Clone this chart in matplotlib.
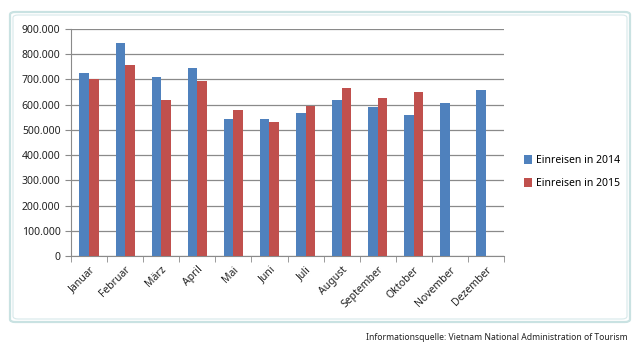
import matplotlib
matplotlib.use('Agg')
import numpy as np
import matplotlib.pyplot as plt
from matplotlib.patches import FancyBboxPatch
from matplotlib.ticker import FuncFormatter

monate = ['Januar', 'Februar', 'März', 'April', 'Mai', 'Juni', 'Juli',
          'August', 'September', 'Oktober', 'November', 'Dezember']
einreisen_2014 = [724000, 843000, 710000, 745000, 542000, 542000, 566000,
                  620000, 591000, 559000, 608000, 658000]
einreisen_2015 = [700000, 756000, 620000, 692000, 578000, 531000, 595000,
                  665000, 626000, 650000]

blau = '#4F81BD'
rot = '#C0504D'
plt.rcParams['font.family'] = ['Noto Sans', 'DejaVu Sans']

W, H = 640, 350
fig = plt.figure(figsize=(6.4, 3.5), dpi=100)

# frame around chart
for inset, lw, col in [(0, 1.6, '#c9e2e2'), (3, 0.8, '#d7e9ea')]:
    fig.patches.append(FancyBboxPatch(((10 + inset) / W, 1 - (322 - inset) / H),
                                      (620 - 2 * inset) / W, (310 - 2 * inset) / H,
                                      boxstyle='round,pad=0,rounding_size=0.008',
                                      transform=fig.transFigure, fill=False,
                                      edgecolor=col, lw=lw))

ax = fig.add_axes([71 / W, 1 - 256 / H, (504 - 71) / W, (256 - 29) / H])

x = np.arange(len(monate))
bw = 0.265
ax.bar(x - bw / 2, einreisen_2014, bw, color=blau, label='Einreisen in 2014', zorder=3)
ax.bar(np.arange(len(einreisen_2015)) + bw / 2, einreisen_2015, bw, color=rot,
       label='Einreisen in 2015', zorder=3)

ax.set_xlim(-0.5, len(monate) - 0.5)
ax.set_ylim(0, 900000)
ax.set_yticks(np.arange(0, 900001, 100000))
ax.yaxis.set_major_formatter(FuncFormatter(lambda v, p: '{:,.0f}'.format(v).replace(',', '.')))
ax.grid(axis='y', color='#8a8a8a', lw=0.9, zorder=0)
ax.set_xticks(x)
ax.set_xticklabels(monate, rotation=45, ha='right', rotation_mode='anchor', fontsize=7.5,
                   color='#222222')
ax.set_xticks(np.arange(-0.5, len(monate)), minor=True)
ax.tick_params(axis='x', which='major', length=0, pad=6)
ax.tick_params(axis='x', which='minor', length=4, color='#8a8a8a')
ax.tick_params(axis='y', length=4, color='#8a8a8a', labelsize=7.5, labelcolor='#222222')
for s in ['top', 'right']:
    ax.spines[s].set_visible(False)
ax.spines['left'].set_color('#8a8a8a')
ax.spines['bottom'].set_color('#8a8a8a')

ax.legend(loc='upper left', bbox_to_anchor=(515 / W, 1 - 146 / H),
          bbox_transform=fig.transFigure, frameon=False, fontsize=7.5,
          handlelength=0.7, handleheight=0.9, handletextpad=0.4, labelspacing=1.1)

fig.text(628 / W, 1 - 338 / H,
         'Informationsquelle: Vietnam National Administration of Tourism',
         ha='right', va='center', fontsize=6.2, color='#222222')

plt.savefig('out.png', dpi=100)
plt.close()
